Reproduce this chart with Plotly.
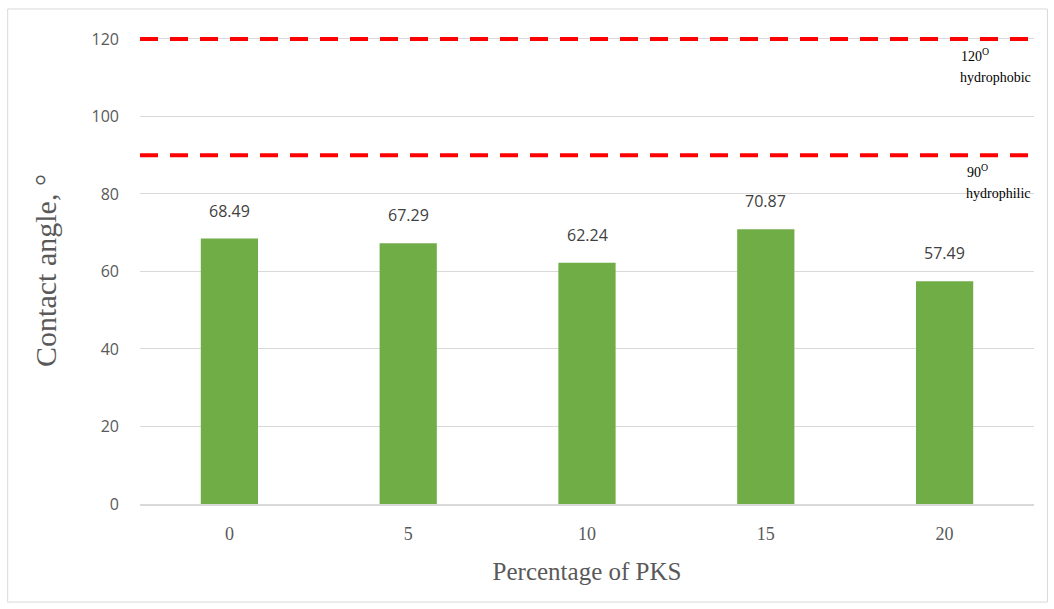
import plotly.graph_objects as go

# Contact angle measured for each PKS loading
pks_percent = ["0", "5", "10", "15", "20"]
contact_angle = [68.49, 67.29, 62.24, 70.87, 57.49]

# Reference wetting thresholds (degrees) and their captions
threshold_values = [120, 90]
threshold_numbers = ["120", "90"]
threshold_names = ["hydrophobic", "hydrophilic"]

y_ticks = [0, 20, 40, 60, 80, 100, 120]

serif = "Liberation Serif, Times New Roman, serif"
sans = "Open Sans, Liberation Sans, sans-serif"

fig = go.Figure()

fig.add_trace(go.Bar(
    x=pks_percent,
    y=contact_angle,
    width=0.32,
    marker=dict(color="#70ad47", line=dict(width=0)),
    showlegend=False,
))

# Value labels above the bars (x given as category index)
for idx, val in enumerate(contact_angle):
    fig.add_annotation(
        x=idx, y=val, text=f"{val:.2f}",
        showarrow=False, yanchor="bottom", yshift=15,
        font=dict(family=sans, size=16, color="#404040"),
    )

for val, num, name in zip(threshold_values, threshold_numbers, threshold_names):
    fig.add_shape(
        type="line", xref="paper", yref="y",
        x0=0, x1=1, y0=val, y1=val,
        line=dict(color="#ff0000", width=4, dash="18px,12px"),
    )
    fig.add_annotation(
        xref="paper", yref="y", x=0.916 if num == "120" else 0.923, y=val,
        text=f"{num}<sup>O</sup>",
        showarrow=False, xanchor="left", yanchor="top", yshift=-5,
        font=dict(family=serif, size=14, color="#000000"),
    )
    fig.add_annotation(
        xref="paper", yref="y", x=0.915 if num == "120" else 0.922, y=val,
        text=name,
        showarrow=False, xanchor="left", yanchor="top", yshift=-29,
        font=dict(family=serif, size=14, color="#000000"),
    )

# Outer chart border
fig.add_shape(
    type="rect", xref="paper", yref="paper",
    x0=-0.148, x1=1.015, y0=-0.21, y1=1.06,
    line=dict(color="#d9d9d9", width=1), fillcolor="rgba(0,0,0,0)", layer="below",
)

fig.update_layout(
    width=1054, height=609,
    margin=dict(l=140, r=20, t=37, b=105),
    paper_bgcolor="white", plot_bgcolor="white",
    bargap=0.68,
    xaxis=dict(
        type="category",
        range=[-0.5, len(pks_percent) - 0.5],
        showgrid=False,
        showline=True, linecolor="#d9d9d9", linewidth=1.5,
        ticks="", ticklen=0, ticklabelstandoff=13,
        tickfont=dict(family=serif, size=18, color="#595959"),
        title=dict(text="Percentage of PKS", standoff=19,
                   font=dict(family=serif, size=25, color="#595959")),
    ),
    yaxis=dict(
        range=[0, 120.5],
        tickvals=y_ticks,
        showgrid=True, gridcolor="#d9d9d9", gridwidth=1,
        zeroline=False, showline=False,
        ticks="", ticklabelstandoff=20,
        tickfont=dict(family=sans, size=16, color="#595959"),
        title=dict(text="Contact angle, °", standoff=26,
                   font=dict(family=serif, size=30, color="#595959")),
    ),
)

fig.write_html("out.html")
